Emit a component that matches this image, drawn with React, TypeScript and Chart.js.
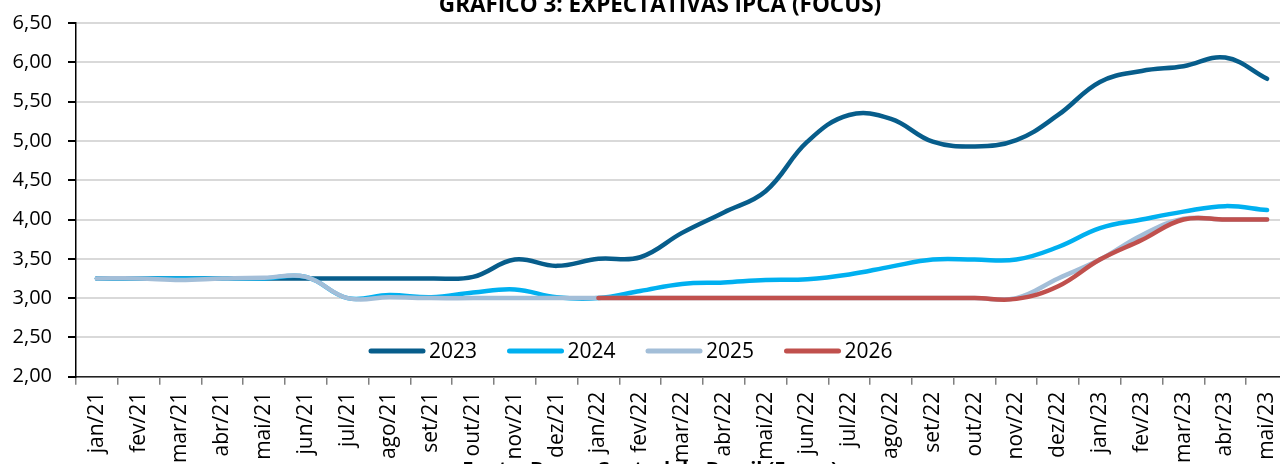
import React, { useEffect, useRef } from 'react';
import { Chart, registerables } from 'chart.js';

Chart.register(...registerables);

const months = [
  'jan/21', 'fev/21', 'mar/21', 'abr/21', 'mai/21', 'jun/21', 'jul/21', 'ago/21', 'set/21', 'out/21',
  'nov/21', 'dez/21', 'jan/22', 'fev/22', 'mar/22', 'abr/22', 'mai/22', 'jun/22', 'jul/22', 'ago/22',
  'set/22', 'out/22', 'nov/22', 'dez/22', 'jan/23', 'fev/23', 'mar/23', 'abr/23', 'mai/23',
];

const ipca2023 = [
  3.25, 3.25, 3.25, 3.25, 3.25, 3.25, 3.25, 3.25, 3.25, 3.27,
  3.49, 3.41, 3.5, 3.52, 3.83, 4.09, 4.36, 4.99, 5.33, 5.28,
  4.99, 4.93, 5.01, 5.33, 5.75, 5.89, 5.95, 6.06, 5.79,
];

const ipca2024 = [
  3.25, 3.25, 3.25, 3.25, 3.25, 3.27, 3.0, 3.04, 3.01, 3.07,
  3.11, 3.01, 3.0, 3.09, 3.18, 3.2, 3.23, 3.24, 3.3, 3.4,
  3.49, 3.49, 3.49, 3.65, 3.89, 4.0, 4.1, 4.17, 4.12,
];

const ipca2025 = [
  3.25, 3.25, 3.23, 3.25, 3.26, 3.27, 3.0, 3.01, 3.0, 3.0,
  3.0, 3.0, 3.0, 3.0, 3.0, 3.0, 3.0, 3.0, 3.0, 3.0,
  3.0, 3.0, 3.0, 3.25, 3.49, 3.8, 4.01, 4.0, 4.0,
];

const ipca2026 = [
  null, null, null, null, null, null, null, null, null, null,
  null, null, 3.0, 3.0, 3.0, 3.0, 3.0, 3.0, 3.0, 3.0,
  3.0, 3.0, 2.99, 3.15, 3.49, 3.74, 4.0, 4.0, 4.0,
];

const seriesNames = ['2023', '2024', '2025', '2026'];
const seriesColors = ['#075d8b', '#00b0f0', '#a3bed8', '#c0504d'];

const yMin = 2;
const yMax = 6.5;
const yStep = 0.5;

const TITLE = 'GRÁFICO 3: EXPECTATIVAS IPCA (FOCUS)';
const SOURCE = 'Fonte: Banco Central do Brasil (Focus)';
const FONT = '"Open Sans", "Liberation Sans", sans-serif';

const decorPlugin = {
  id: 'decor',
  beforeDraw(chart: any) {
    const ctx = chart.ctx;
    ctx.save();
    ctx.fillStyle = '#ffffff';
    ctx.fillRect(0, 0, chart.width, chart.height);
    ctx.fillStyle = '#000000';
    ctx.font = `bold 20px ${FONT}`;
    ctx.textAlign = 'center';
    ctx.textBaseline = 'top';
    ctx.fillText(SOURCE, 650, 460);
    ctx.restore();
  },
  afterDraw(chart: any) {
    const ctx = chart.ctx;
    ctx.save();
    // title (top partly cut off, as in the reference)
    ctx.fillStyle = '#000000';
    ctx.font = `bold 22.5px ${FONT}`;
    ctx.textAlign = 'center';
    ctx.textBaseline = 'alphabetic';
    ctx.fillText(TITLE, 660, 11.5);
    // legend inside the plot
    const y = 351;
    let x = 369;
    ctx.font = `21px ${FONT}`;
    ctx.textAlign = 'left';
    ctx.textBaseline = 'middle';
    chart.data.datasets.forEach((ds: any) => {
      ctx.strokeStyle = ds.borderColor;
      ctx.lineWidth = 5;
      ctx.lineCap = 'round';
      ctx.beginPath();
      ctx.moveTo(x + 2, y);
      ctx.lineTo(x + 54, y);
      ctx.stroke();
      ctx.fillStyle = '#000000';
      ctx.fillText(ds.label, x + 60, y + 1);
      x += 138.5;
    });
    ctx.restore();
  },
};

export default function App() {
  const canvasRef = useRef<HTMLCanvasElement | null>(null);

  useEffect(() => {
    if (!canvasRef.current) return;
    const seriesData = [ipca2023, ipca2024, ipca2025, ipca2026];
    const chart = new Chart(canvasRef.current, {
      type: 'line',
      data: {
        labels: months,
        datasets: seriesData.map((d, i) => ({
          label: seriesNames[i],
          data: d,
          borderColor: seriesColors[i],
          backgroundColor: seriesColors[i],
          borderWidth: 4.5,
          pointRadius: 0,
          tension: 0.4,
          fill: false,
          borderCapStyle: 'round',
          order: 4 - i,
        })),
      },
      options: {
        responsive: false,
        animation: false,
        devicePixelRatio: 1,
        layout: { padding: { top: 23, right: 2, left: 0, bottom: 0 } },
        plugins: {
          legend: { display: false },
          title: { display: false },
          tooltip: { enabled: false },
        },
        scales: {
          x: {
            type: 'category',
            offset: true,
            afterFit: (scale: any) => {
              scale.height = 87.3;
              scale.paddingLeft = 0;
              scale.paddingRight = 0;
            },
            grid: {
              offset: true,
              drawOnChartArea: false,
              drawTicks: true,
              tickLength: 8,
              tickColor: '#808080',
              lineWidth: 1.5,
            },
            border: { display: true, color: '#222222', width: 1.5 },
            ticks: {
              autoSkip: false,
              minRotation: 90,
              maxRotation: 90,
              padding: 7,
              color: '#000000',
              font: { family: FONT, size: 21 },
            },
          },
          y: {
            min: yMin,
            max: yMax,
            afterFit: (scale: any) => {
              scale.width = 76;
              scale.paddingTop = 0;
              scale.paddingBottom = 0;
            },
            grid: {
              color: '#d9d9d9',
              lineWidth: 2,
              drawTicks: true,
              tickLength: 8,
              tickColor: '#000000',
            },
            border: { display: true, color: '#000000', width: 1.5 },
            ticks: {
              stepSize: yStep,
              padding: 16,
              color: '#000000',
              font: { family: FONT, size: 20 },
              callback: (v: any) => Number(v).toFixed(2).replace('.', ','),
            },
          },
        },
      },
      plugins: [decorPlugin],
    });
    return () => chart.destroy();
  }, []);

  return (
    <div
      style={{
        position: 'fixed',
        left: 0,
        top: 0,
        width: 1280,
        height: 464,
        overflow: 'hidden',
        background: '#ffffff',
      }}
    >
      <canvas ref={canvasRef} width={1290} height={464} style={{ display: 'block' }} />
    </div>
  );
}
